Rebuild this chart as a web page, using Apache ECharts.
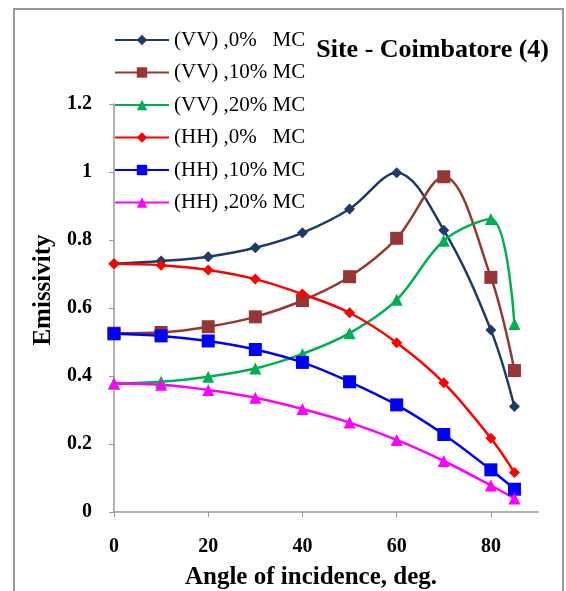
<!DOCTYPE html>
<html>
<head>
<meta charset="utf-8">
<script src="https://cdn.jsdelivr.net/npm/echarts@6/dist/echarts.min.js"></script>
<style>html,body{margin:0;padding:0;background:#fff}#c{width:566px;height:591px}</style>
</head>
<body>
<div id="c"></div>
<script>
const angles = [0, 10, 20, 30, 40, 50, 60, 70, 80, 85];
const xTicks = [0, 20, 40, 60, 80];
const seriesNames = ['(VV) ,0%   MC', '(VV) ,10% MC', '(VV) ,20% MC', '(HH) ,0%   MC', '(HH) ,10% MC', '(HH) ,20% MC'];
const vv0 = [0.73, 0.738, 0.751, 0.777, 0.821, 0.891, 0.998, 0.829, 0.535, 0.31];
const vv10 = [0.526, 0.528, 0.545, 0.574, 0.622, 0.692, 0.805, 0.986, 0.69, 0.416];
const vv20 = [0.378, 0.383, 0.398, 0.422, 0.465, 0.526, 0.624, 0.798, 0.862, 0.553];
const hh0 = [0.73, 0.726, 0.712, 0.685, 0.641, 0.586, 0.498, 0.38, 0.217, 0.116];
const hh10 = [0.524, 0.518, 0.503, 0.478, 0.44, 0.383, 0.315, 0.228, 0.124, 0.067];
const hh20 = [0.378, 0.374, 0.359, 0.336, 0.303, 0.263, 0.212, 0.15, 0.078, 0.04];
const title = 'Site - Coimbatore (4)';
const xName = 'Angle of incidence, deg.';
const yName = 'Emissivity';

const allValues = [vv0, vv10, vv20, hh0, hh10, hh20];
const colors = ['#1F3A64', '#953735', '#00B050', '#FF0000', '#0000FF', '#FF00FF'];
const symbols = ['diamond', 'rect', 'triangle', 'diamond', 'rect', 'triangle'];
const symbolSizes = [11, 13, 12, 11, 13, 12];

const serif = '"Liberation Serif", "Times New Roman", serif';
const chart = echarts.init(document.getElementById('c'), null, {renderer: 'canvas'});
chart.setOption({
  animation: false,
  backgroundColor: '#fff',
  title: {
    text: title, right: 12, top: 32,
    textStyle: {fontFamily: serif, fontWeight: 'bold', fontSize: 26, color: '#000'}
  },
  legend: {
    orient: 'vertical', left: 109, top: 24,
    itemWidth: 54, itemHeight: 13, itemGap: 10.5,
    textStyle: {fontFamily: serif, fontSize: 21, color: '#000', lineHeight: 22},
    data: seriesNames
  },
  grid: {left: 114, top: 104, right: 28, bottom: 79, containLabel: false, outerBoundsMode: 'none'},
  xAxis: {
    type: 'value', min: 0, max: 90,
    name: xName, nameLocation: 'middle', nameGap: 53,
    nameTextStyle: {fontFamily: serif, fontWeight: 'bold', fontSize: 25, color: '#000', padding: [0, 30, 0, 0]},
    axisLine: {lineStyle: {color: '#999', width: 1.5}},
    axisTick: {show: true, length: 5, customValues: xTicks, lineStyle: {color: '#999'}},
    axisLabel: {customValues: xTicks, fontFamily: serif, fontWeight: 'bold', fontSize: 20, color: '#000', margin: 25},
    splitLine: {show: false}
  },
  yAxis: {
    type: 'value', min: 0, max: 1.2, interval: 0.2,
    name: yName, nameLocation: 'middle', nameGap: 56, nameRotate: 90,
    nameTextStyle: {fontFamily: serif, fontWeight: 'bold', fontSize: 25, color: '#000', padding: [0, 0, 0, 36]},
    axisLine: {show: true, lineStyle: {color: '#999', width: 1.5}},
    axisTick: {show: true, length: 5, lineStyle: {color: '#999'}},
    axisLabel: {fontFamily: serif, fontWeight: 'bold', fontSize: 20, color: '#000', margin: 22,
      formatter: v => String(Math.round(v * 10) / 10)},
    splitLine: {show: false}
  },
  graphic: [{
    type: 'rect', shape: {x: 14, y: 9, width: 549, height: 620},
    style: {fill: 'none', stroke: '#999', lineWidth: 2}, silent: true, z: -1
  }],
  series: allValues.map((vals, i) => ({
    name: seriesNames[i], type: 'line', smooth: 0.35,
    data: angles.map((a, j) => [a, vals[j]]),
    symbol: symbols[i], symbolSize: symbolSizes[i],
    itemStyle: {color: colors[i]},
    lineStyle: {color: colors[i], width: 2.5}
  }))
});
</script>
</body>
</html>
